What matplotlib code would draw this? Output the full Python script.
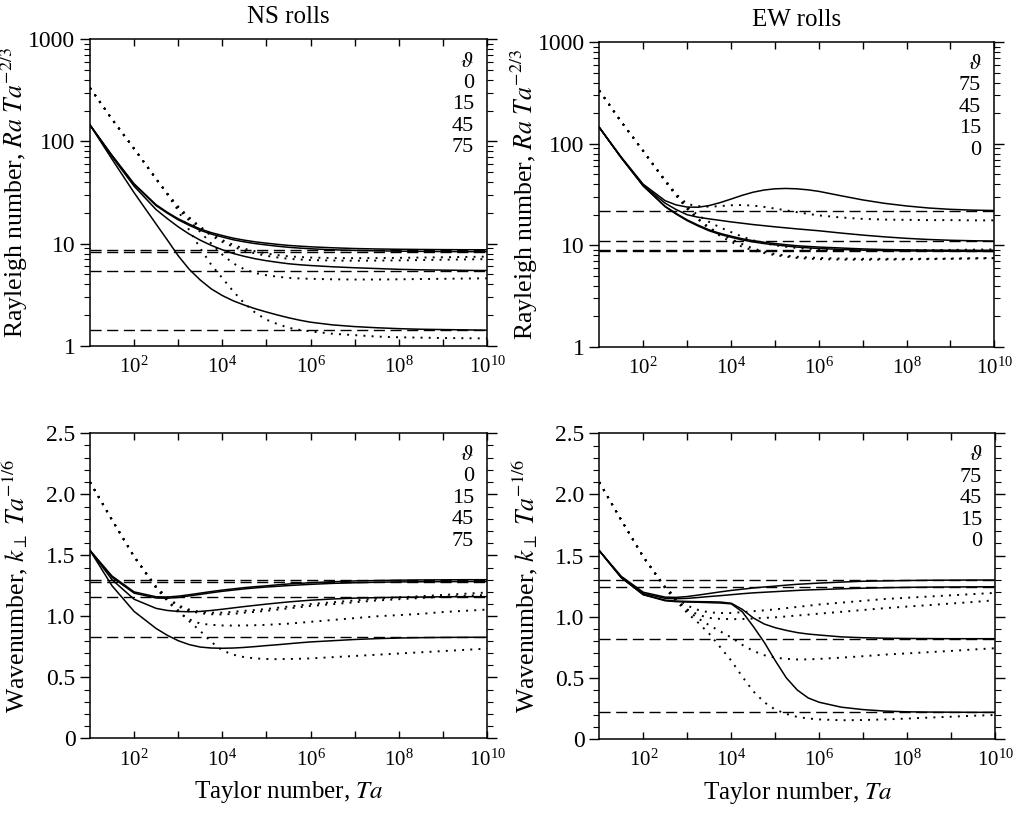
import numpy as np
import matplotlib
matplotlib.use('Agg')
import matplotlib.pyplot as plt
from matplotlib.ticker import FixedLocator, NullFormatter, LogLocator, MultipleLocator, FuncFormatter, LogFormatterMathtext

plt.rcParams['font.family'] = 'serif'
plt.rcParams['font.serif'] = ['Liberation Serif', 'DejaVu Serif']
plt.rcParams['mathtext.fontset'] = 'stix'

ta_exp = [1.0, 1.5, 2.0, 2.5, 2.75, 3.0, 3.25, 3.5, 3.75, 4.0, 4.25, 4.5, 4.75, 5.0,
          5.25, 5.5, 5.75, 6.0, 6.5, 7.0, 7.5, 8.0, 8.5, 9.0, 9.5, 10.0]

# --- Rayleigh number, NS rolls (theta = 0, 15, 45, 75)
ra_ns_0 = [145, 73, 38.5, 24, 20.3, 17.5, 15.5, 13.9, 12.8, 12.0, 11.3, 10.8, 10.4, 10.1,
           9.83, 9.6, 9.44, 9.3, 9.1, 8.95, 8.86, 8.8, 8.76, 8.73, 8.71, 8.7]
ra_ns_15 = [145, 72.5, 38, 23.5, 19.9, 17.1, 15.1, 13.5, 12.4, 11.6, 10.9, 10.4, 10.0, 9.7,
            9.43, 9.2, 9.04, 8.9, 8.7, 8.58, 8.5, 8.43, 8.39, 8.36, 8.34, 8.32]
ra_ns_45 = [145, 71, 36.5, 21.5, 17.6, 14.6, 12.4, 10.8, 9.6, 8.7, 8.0, 7.5, 7.1, 6.8,
            6.56, 6.35, 6.21, 6.1, 5.93, 5.8, 5.7, 5.6, 5.54, 5.5, 5.47, 5.45]
ra_ns_75 = [145, 67, 31.5, 15.5, 10.9, 7.6, 5.6, 4.4, 3.6, 3.1, 2.75, 2.5, 2.3, 2.14,
            2.0, 1.88, 1.78, 1.7, 1.6, 1.54, 1.5, 1.47, 1.45, 1.44, 1.43, 1.42]
ra_ns_0_dot = [335, 165, 85, 43, 31, 23, 18, 14.6, 12.4, 10.8, 9.7, 8.9, 8.4, 8.0,
               7.72, 7.5, 7.39, 7.3, 7.22, 7.2, 7.22, 7.25, 7.3, 7.35, 7.4, 7.45]
ra_ns_15_dot = [335, 165, 85, 43, 31, 22.7, 17.7, 14.2, 12.0, 10.4, 9.3, 8.5, 8.0, 7.6,
                7.32, 7.1, 6.99, 6.9, 6.83, 6.8, 6.82, 6.85, 6.9, 6.95, 7.0, 7.05]
ra_ns_45_dot = [335, 165, 85, 43, 31, 22, 16.8, 13.0, 10.0, 7.8, 6.4, 5.6, 5.15, 4.9,
                4.74, 4.62, 4.56, 4.52, 4.47, 4.45, 4.45, 4.47, 4.5, 4.52, 4.55, 4.57]
ra_ns_75_dot = [335, 165, 85, 43, 30.5, 21, 13.5, 9.0, 6.2, 4.6, 3.4, 2.6, 2.1, 1.8,
                1.63, 1.5, 1.43, 1.38, 1.31, 1.27, 1.23, 1.21, 1.2, 1.19, 1.185, 1.18]
ra_ns_asym = [8.7, 8.3, 5.45, 1.43]

# --- Rayleigh number, EW rolls
ra_ew_0 = ra_ns_0
ra_ew_15 = [145, 73, 38.5, 24.2, 20.6, 17.8, 15.8, 14.2, 13.1, 12.3, 11.6, 11.1, 10.7, 10.4,
            10.13, 9.9, 9.74, 9.6, 9.4, 9.2, 9.08, 9.0, 8.95, 8.93, 8.91, 8.9]
ra_ew_45 = [145, 73, 39, 26, 22.5, 20, 18.9, 18.2, 17.6, 17.0, 16.5, 16.0, 15.6, 15.2,
            14.85, 14.5, 14.2, 13.9, 13.2, 12.6, 12.1, 11.7, 11.4, 11.2, 11.08, 11.0]
ra_ew_75 = [145, 74, 40, 27.5, 25.0, 23.8, 23.7, 24.6, 26.3, 28.5, 31.0, 33.3, 35.0, 36.0,
            36.3, 36.0, 35.2, 34.0, 30.8, 28.0, 25.9, 24.4, 23.3, 22.6, 22.2, 22.0]
ra_ew_0_dot = ra_ns_0_dot
ra_ew_15_dot = [335, 165, 85, 43, 31, 23, 18.3, 15, 13, 11.5, 10.3, 9.3, 8.7, 8.2,
                7.92, 7.7, 7.59, 7.5, 7.4, 7.35, 7.35, 7.35, 7.37, 7.4, 7.45, 7.5]
ra_ew_45_dot = [335, 165, 85, 43, 31.5, 24, 19.8, 17, 15, 13.5, 12.2, 11.2, 10.5, 10.0,
                9.67, 9.4, 9.24, 9.1, 9.0, 8.95, 8.95, 8.95, 8.97, 9.0, 9.05, 9.1]
ra_ew_75_dot = [335, 165, 85, 44, 32, 25.5, 24.3, 24.0, 24.3, 24.8, 24.9, 24.6, 23.9, 23.0,
                22.1, 21.2, 20.4, 19.7, 18.8, 18.2, 17.9, 17.8, 17.7, 17.7, 17.6, 17.6]
ra_ew_asym = [8.7, 8.9, 11.0, 21.7]

# --- Wavenumber, NS rolls
k_ns_0 = [1.54, 1.33, 1.20, 1.16, 1.158, 1.165, 1.177, 1.19, 1.203, 1.215, 1.225, 1.235, 1.243, 1.25,
          1.258, 1.265, 1.27, 1.275, 1.283, 1.29, 1.293, 1.296, 1.298, 1.299, 1.30, 1.30]
k_ns_15 = [1.54, 1.32, 1.19, 1.15, 1.148, 1.155, 1.167, 1.18, 1.193, 1.205, 1.215, 1.225, 1.233, 1.24,
           1.246, 1.252, 1.257, 1.262, 1.27, 1.275, 1.279, 1.282, 1.283, 1.284, 1.285, 1.285]
k_ns_45 = [1.54, 1.30, 1.14, 1.065, 1.048, 1.04, 1.037, 1.04, 1.048, 1.058, 1.069, 1.08, 1.09, 1.10,
           1.109, 1.118, 1.125, 1.132, 1.142, 1.149, 1.153, 1.156, 1.158, 1.16, 1.161, 1.161]
k_ns_75 = [1.54, 1.25, 1.04, 0.90, 0.845, 0.80, 0.768, 0.748, 0.74, 0.738, 0.74, 0.745, 0.752, 0.76,
           0.767, 0.775, 0.783, 0.79, 0.80, 0.81, 0.817, 0.822, 0.825, 0.827, 0.828, 0.828]
k_ns_0_dot = [2.10, 1.79, 1.49, 1.24, 1.155, 1.09, 1.055, 1.035, 1.03, 1.03, 1.037, 1.045, 1.052, 1.06,
              1.07, 1.08, 1.09, 1.10, 1.115, 1.13, 1.145, 1.155, 1.165, 1.175, 1.185, 1.195]
k_ns_15_dot = [2.10, 1.79, 1.49, 1.24, 1.15, 1.08, 1.045, 1.025, 1.017, 1.015, 1.02, 1.03, 1.037, 1.045,
               1.055, 1.065, 1.075, 1.085, 1.10, 1.115, 1.13, 1.14, 1.15, 1.16, 1.168, 1.175]
k_ns_45_dot = [2.10, 1.79, 1.49, 1.24, 1.13, 1.03, 0.975, 0.94, 0.93, 0.925, 0.924, 0.925, 0.927, 0.93,
               0.935, 0.94, 0.947, 0.955, 0.97, 0.985, 1.0, 1.01, 1.02, 1.035, 1.045, 1.055]
k_ns_75_dot = [2.10, 1.79, 1.49, 1.23, 1.13, 1.05, 0.96, 0.88, 0.79, 0.72, 0.685, 0.665, 0.655, 0.65,
               0.649, 0.65, 0.652, 0.655, 0.665, 0.675, 0.685, 0.695, 0.705, 0.715, 0.725, 0.735]
k_ns_asym = [1.30, 1.285, 1.16, 0.83]

# --- Wavenumber, EW rolls
k_ew_0 = k_ns_0
k_ew_15 = [1.54, 1.32, 1.19, 1.15, 1.147, 1.15, 1.157, 1.165, 1.172, 1.18, 1.188, 1.195, 1.2, 1.205,
           1.21, 1.215, 1.219, 1.222, 1.228, 1.233, 1.237, 1.24, 1.242, 1.243, 1.244, 1.245]
k_ew_45 = [1.54, 1.32, 1.18, 1.135, 1.128, 1.125, 1.123, 1.122, 1.12, 1.11, 1.06, 0.99, 0.94, 0.91,
           0.888, 0.87, 0.858, 0.85, 0.835, 0.828, 0.824, 0.822, 0.821, 0.82, 0.82, 0.82]
k_ew_75 = [1.54, 1.32, 1.18, 1.13, 1.123, 1.12, 1.118, 1.115, 1.112, 1.105, 1.04, 0.92, 0.79, 0.64,
           0.50, 0.40, 0.335, 0.30, 0.26, 0.24, 0.228, 0.222, 0.22, 0.219, 0.218, 0.218]
k_ew_0_dot = k_ns_0_dot
k_ew_15_dot = [2.10, 1.79, 1.49, 1.24, 1.14, 1.06, 1.015, 0.99, 0.982, 0.98, 0.981, 0.985, 0.99, 0.995,
               1.002, 1.01, 1.017, 1.025, 1.04, 1.055, 1.07, 1.083, 1.095, 1.108, 1.12, 1.135]
k_ew_45_dot = [2.10, 1.79, 1.49, 1.24, 1.14, 1.05, 0.985, 0.93, 0.88, 0.83, 0.77, 0.72, 0.685, 0.665,
               0.655, 0.65, 0.651, 0.655, 0.665, 0.677, 0.69, 0.70, 0.71, 0.72, 0.732, 0.742]
k_ew_75_dot = [2.10, 1.79, 1.49, 1.23, 1.13, 1.03, 0.95, 0.86, 0.75, 0.64, 0.51, 0.39, 0.30, 0.24,
               0.205, 0.18, 0.167, 0.16, 0.153, 0.155, 0.16, 0.167, 0.175, 0.182, 0.19, 0.196]
k_ew_asym = [1.30, 1.245, 0.82, 0.218]

ns_labels = ['0', '15', '45', '75']
ew_labels = ['75', '45', '15', '0']

ta = 10.0 ** np.array(ta_exp)
dot_style = (0, (1, 3.2))
dash_style = (0, (8, 4))

fig = plt.figure(figsize=(10.18, 8.16), dpi=100)
ax_tl = fig.add_axes([0.0884, 0.5763, 0.390, 0.3755])
ax_tr = fig.add_axes([0.5887, 0.5751, 0.388, 0.373])
ax_bl = fig.add_axes([0.0884, 0.0952, 0.390, 0.3738])
ax_br = fig.add_axes([0.5887, 0.0944, 0.389, 0.3746])


def draw_panel(ax, solid, dotted, asym, labels):
    for s in solid:
        ax.plot(ta, s, color='black', lw=1.1)
    for d in dotted:
        ax.plot(ta, d, color='black', lw=1.4, linestyle=dot_style)
    for a in asym:
        ax.axhline(a, color='black', lw=1.0, linestyle=dash_style)
    ax.set_xscale('log')
    ax.set_xlim(10, 1e10)
    ax.xaxis.set_major_locator(FixedLocator([1e2, 1e4, 1e6, 1e8, 1e10]))
    ax.xaxis.set_minor_locator(FixedLocator([1e3, 1e5, 1e7, 1e9]))
    ax.xaxis.set_major_formatter(LogFormatterMathtext())
    ax.xaxis.set_minor_formatter(NullFormatter())
    ax.tick_params(axis='x', which='both', direction='in', top=True, length=5, width=1, labelsize=15, pad=8)
    ax.tick_params(axis='y', which='major', direction='out', right=True, length=7, width=1, labelsize=17)
    ax.tick_params(axis='y', which='minor', direction='out', right=True, length=4, width=0.8)
    for sp in ax.spines.values():
        sp.set_linewidth(1.1)
    # theta list in the upper right corner
    ax.text(0.967, 0.926, r'$\vartheta$', transform=ax.transAxes, ha='right', va='center', fontsize=16)
    for i, lab in enumerate(labels):
        ax.text(0.967, 0.857 - i * 0.0705, lab, transform=ax.transAxes, ha='right', va='center', fontsize=16)


draw_panel(ax_tl, [ra_ns_0, ra_ns_15, ra_ns_45, ra_ns_75],
           [ra_ns_0_dot, ra_ns_15_dot, ra_ns_45_dot, ra_ns_75_dot], ra_ns_asym, ns_labels)
draw_panel(ax_tr, [ra_ew_0, ra_ew_15, ra_ew_45, ra_ew_75],
           [ra_ew_0_dot, ra_ew_15_dot, ra_ew_45_dot, ra_ew_75_dot], ra_ew_asym, ew_labels)
draw_panel(ax_bl, [k_ns_0, k_ns_15, k_ns_45, k_ns_75],
           [k_ns_0_dot, k_ns_15_dot, k_ns_45_dot, k_ns_75_dot], k_ns_asym, ns_labels)
draw_panel(ax_br, [k_ew_0, k_ew_15, k_ew_45, k_ew_75],
           [k_ew_0_dot, k_ew_15_dot, k_ew_45_dot, k_ew_75_dot], k_ew_asym, ew_labels)

for ax in [ax_tl, ax_tr]:
    ax.set_yscale('log')
    ax.set_ylim(1, 1000)
    ax.yaxis.set_major_locator(FixedLocator([1, 10, 100, 1000]))
    ax.yaxis.set_major_formatter(FuncFormatter(lambda v, p: '%d' % v))
    ax.yaxis.set_minor_locator(LogLocator(base=10, subs=np.arange(2, 10), numticks=20))
    ax.yaxis.set_minor_formatter(NullFormatter())
    ax.set_ylabel(r'Rayleigh number, $Ra\ Ta^{-2/3}$', fontsize=18.5)
    ax.yaxis.set_label_coords(-0.150, 0.5)

for ax in [ax_bl, ax_br]:
    ax.set_ylim(0, 2.5)
    ax.yaxis.set_major_locator(MultipleLocator(0.5))
    ax.yaxis.set_minor_locator(MultipleLocator(0.1))
    ax.yaxis.set_major_formatter(FuncFormatter(lambda v, p: '0' if abs(v) < 1e-9 else '%.1f' % v))
    ax.set_ylabel(r'Wavenumber, $k_{\perp}\ Ta^{-1/6}$', fontsize=18.5)
    ax.yaxis.set_label_coords(-0.150, 0.5)
    ax.set_xlabel(r'Taylor number, $Ta$', fontsize=18, labelpad=6)

ax_tl.set_title('NS rolls', fontsize=18, pad=12)
ax_tr.set_title('EW rolls', fontsize=18, pad=12)

fig.savefig('out.png', dpi=100)
